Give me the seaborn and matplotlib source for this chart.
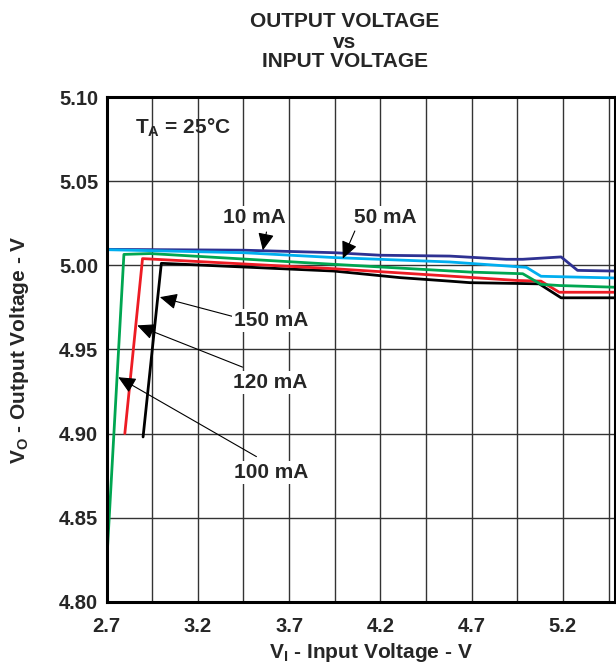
import matplotlib
matplotlib.use("Agg")
import matplotlib.pyplot as plt
import numpy as np
import pandas as pd
import seaborn as sns

# Curve data (V_I in V, V_O in V)
vi_10 = [2.70, 3.45, 3.95, 4.20, 4.58, 4.89, 4.98, 5.19, 5.28, 5.48]
vo_10 = [5.0095, 5.0090, 5.0075, 5.0060, 5.0055, 5.0036, 5.0036, 5.0050, 4.9970, 4.9966]

vi_50 = [2.70, 3.45, 3.95, 4.58, 5.00, 5.08, 5.48]
vo_50 = [5.0093, 5.0075, 5.0046, 5.0020, 4.9988, 4.9935, 4.9925]

vi_100 = [2.70, 2.795, 2.94, 3.945, 4.69, 4.98, 5.08, 5.18, 5.48]
vo_100 = [4.822, 5.0065, 5.0070, 5.0006, 4.9960, 4.9950, 4.9887, 4.9880, 4.9870]

vi_120 = [2.80, 2.897, 3.945, 4.58, 4.95, 5.08, 5.18, 5.48]
vo_120 = [4.900, 5.0040, 4.9980, 4.9936, 4.9910, 4.9906, 4.9840, 4.9840]

vi_150 = [2.90, 3.00, 3.945, 4.307, 4.58, 4.69, 5.07, 5.19, 5.48]
vo_150 = [4.898, 5.0012, 4.9966, 4.9927, 4.9906, 4.9897, 4.9890, 4.9807, 4.9807]

currents = ["150 mA", "120 mA", "100 mA", "10 mA", "50 mA"]
colors = ["#000000", "#ED1C24", "#00A651", "#2E3192", "#00AEEF"]

x_ticks = [2.7, 3.2, 3.7, 4.2, 4.7, 5.2]
y_ticks = [4.80, 4.85, 4.90, 4.95, 5.00, 5.05, 5.10]

series = {
    "150 mA": (vi_150, vo_150),
    "120 mA": (vi_120, vo_120),
    "100 mA": (vi_100, vo_100),
    "10 mA": (vi_10, vo_10),
    "50 mA": (vi_50, vo_50),
}
frames = []
for name in currents:
    xs, ys = series[name]
    frames.append(pd.DataFrame({"vi": xs, "vo": ys, "load": name}))
df = pd.concat(frames, ignore_index=True)

sns.set_style("white")
plt.rcParams["font.family"] = ["Liberation Sans", "DejaVu Sans"]
plt.rcParams["font.weight"] = "bold"
plt.rcParams["mathtext.fontset"] = "custom"
plt.rcParams["mathtext.rm"] = "Liberation Sans:bold"
plt.rcParams["mathtext.bf"] = "Liberation Sans:bold"

fig = plt.figure(figsize=(6.16, 6.65), dpi=100)
ax = fig.add_axes([0.173, 0.095, 0.825, 0.759])

sns.lineplot(data=df, x="vi", y="vo", hue="load", hue_order=currents,
             palette=colors, estimator=None, sort=False, lw=2.0,
             legend=False, ax=ax)

ax.set_xlim(2.7, 5.484)
ax.set_ylim(4.80, 5.10)
ax.set_xticks(x_ticks)
ax.set_xticks(np.arange(2.95, 5.46, 0.5), minor=True)
ax.set_yticks(y_ticks)
ax.set_xticklabels([f"{t:.1f}" for t in x_ticks], fontsize=14.5, fontweight="bold")
ax.set_yticklabels([f"{t:.2f}" for t in y_ticks], fontsize=14.5, fontweight="bold")
ax.tick_params(axis="both", which="both", length=0)
ax.tick_params(axis="x", pad=11)
ax.tick_params(axis="y", pad=6)
ax.grid(True, which="both", color="#333333", lw=1.0)
ax.set_axisbelow(True)
for s in ax.spines.values():
    s.set_linewidth(2.2)
    s.set_color("black")

ax.set_xlabel(r"V$_\mathbf{I}$ - Input Voltage - V", fontsize=15, fontweight="bold")
ax.set_ylabel(r"V$_\mathbf{O}$ - Output Voltage - V", fontsize=15, fontweight="bold")
ax.xaxis.set_label_coords(0.52, -0.078)
ax.yaxis.set_label_coords(-0.149, 0.5)

# three-line title, one text per line
for line, base in [("OUTPUT VOLTAGE", 27), ("vs", 48), ("INPUT VOLTAGE", 67)]:
    fig.text(0.56, 1 - base / 665, line, ha="center", va="baseline",
             fontsize=15, fontweight="bold")

ax.text(2.855, 5.082, r"T$_\mathbf{A}$ = 25°C", fontsize=15, fontweight="bold",
        ha="left", va="center")

# load labels with leader arrows: (text pos, arrow tail, arrow tip)
labels = [
    ("10 mA", (3.512, 5.0286), (3.576, 5.0198), (3.556, 5.0089)),
    ("50 mA", (4.225, 5.0286), (4.060, 5.0204), (3.994, 5.0040)),
    ("150 mA", (3.604, 4.9673), (3.392, 4.9696), (2.992, 4.9811)),
    ("120 mA", (3.594, 4.9305), (3.445, 4.9395), (2.868, 4.9643)),
    ("100 mA", (3.604, 4.8770), (3.521, 4.8863), (2.764, 4.9335)),
]
for txt, pos, tail, tip in labels:
    ax.annotate("", xy=tip, xytext=tail,
                arrowprops=dict(arrowstyle="-|>,head_length=0.75,head_width=0.35",
                                color="black", lw=0.8, shrinkA=0, shrinkB=0,
                                mutation_scale=14))
    ax.text(pos[0], pos[1], txt, fontsize=15, fontweight="bold", ha="center",
            va="center", bbox=dict(fc="white", ec="none", pad=1.5), zorder=5)

fig.savefig("out.png", dpi=100)
